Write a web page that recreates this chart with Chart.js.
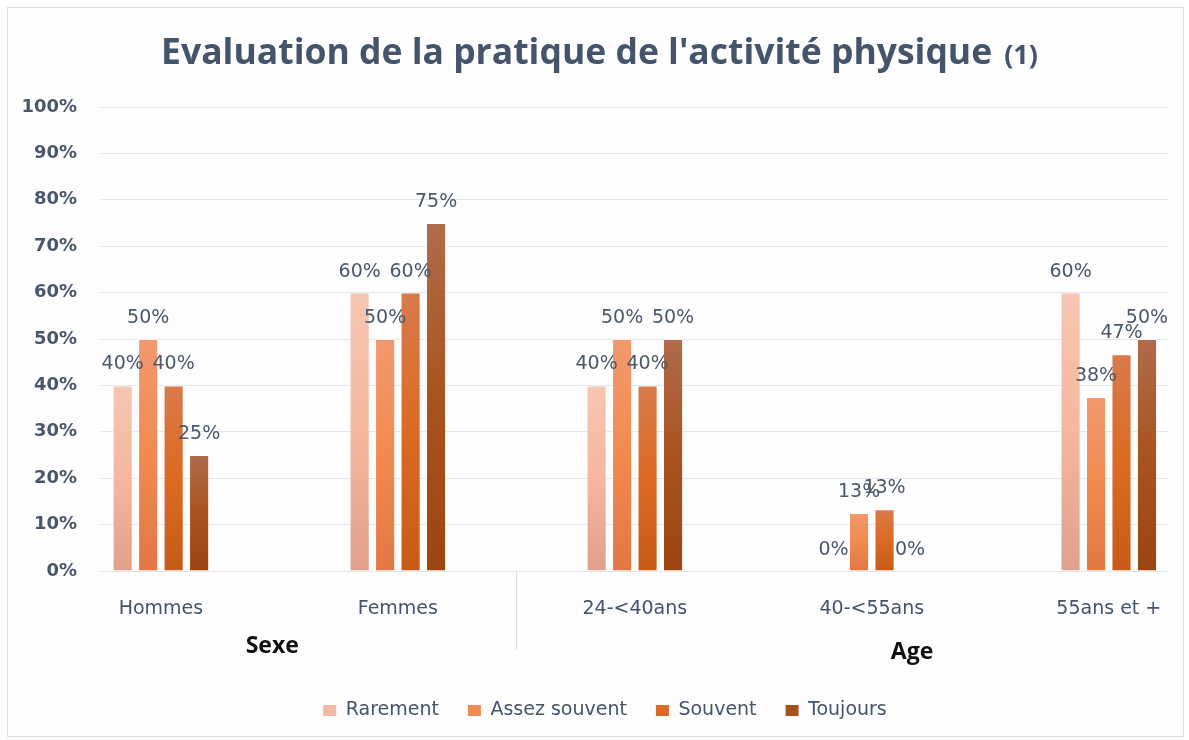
<!DOCTYPE html>
<html>
<head>
<meta charset="utf-8">
<script src="https://cdn.jsdelivr.net/npm/chart.js@4.4.1/dist/chart.umd.min.js"></script>
<style>
  html, body { margin: 0; padding: 0; background: #ffffff; }
  #wrap { width: 1189px; height: 740px; position: relative; }
</style>
</head>
<body>
<div id="wrap"><canvas id="c" width="1189" height="740"></canvas></div>
<script>
// ---- Data ----
const categories = ['Hommes', 'Femmes', '24-<40ans', '40-<55ans', '55ans et +'];
const seriesNames = ['Rarement', 'Assez souvent', 'Souvent', 'Toujours'];
const rarement     = [40, 60, 40, 0,    60];
const assezSouvent = [50, 50, 50, 12.5, 37.5];
const souvent      = [40, 60, 40, 13.3, 46.7];
const toujours     = [25, 75, 50, 0,    50];
const groupNames   = ['Sexe', 'Age'];
const chartTitle   = "Evaluation de la pratique de l'activité physique";
const titleNote    = '(1)';

// ---- Styles ----
const gradientStops = [
  ['#f6c6b2', '#f5b79d', '#e0a08b'],
  ['#f1996e', '#f28a4f', '#e27744'],
  ['#d87a4b', '#dd6a23', '#c65b17'],
  ['#b06b4b', '#a9541e', '#9b4510']
];
const legendColors = ['#f2b8a2', '#ef8a52', '#da6a27', '#a9521f'];
const textColor = '#44546A';
const seriesValues = [rarement, assezSouvent, souvent, toujours];

function barGradient(idx) {
  return function(context) {
    if (context.type !== 'data') return legendColors[idx];
    const chart = context.chart;
    const yScale = chart.scales.y;
    if (!yScale || !chart.chartArea) return legendColors[idx];
    const v = context.parsed ? context.parsed.y : 0;
    const top = yScale.getPixelForValue(v);
    const bottom = yScale.getPixelForValue(0);
    if (!isFinite(top) || !isFinite(bottom) || Math.abs(bottom - top) < 1) return legendColors[idx];
    const g = chart.ctx.createLinearGradient(0, top, 0, bottom);
    const s = gradientStops[idx];
    g.addColorStop(0, s[0]);
    g.addColorStop(0.5, s[1]);
    g.addColorStop(1, s[2]);
    return g;
  };
}

const datasets = seriesNames.map((name, i) => ({
  label: name,
  data: seriesValues[i].map((v, k) => ({ x: k, y: v })),
  backgroundColor: barGradient(i),
  borderColor: 'rgba(255,255,255,0.55)',
  borderWidth: 1,
  categoryPercentage: 0.43,
  barPercentage: 0.79
}));

const framePlugin = {
  id: 'frame',
  afterLayout(chart) {
    // legend block centred slightly right of the canvas centre, as in the reference
    if (chart.legend) { chart.legend.left += 10; chart.legend.right += 10; }
  },
  beforeDraw(chart) {
    const ctx = chart.ctx;
    ctx.save();
    ctx.fillStyle = '#ffffff';
    ctx.fillRect(0, 0, chart.width, chart.height);
    ctx.fillStyle = '#fdfdfd';
    ctx.fillRect(8, 8, chart.width - 14, chart.height - 12);
    ctx.strokeStyle = '#d8dee6';
    ctx.lineWidth = 1;
    ctx.strokeRect(7.5, 7.5, chart.width - 13, chart.height - 11);
    ctx.restore();
  }
};

const titlePlugin = {
  id: 'customTitle',
  afterDraw(chart) {
    const ctx = chart.ctx;
    ctx.save();
    ctx.fillStyle = textColor;
    ctx.textBaseline = 'alphabetic';
    ctx.textAlign = 'left';
    ctx.font = 'bold 35.5px "Open Sans"';
    const w1 = ctx.measureText(chartTitle).width;
    ctx.font = 'bold 27px "Open Sans"';
    const w2 = ctx.measureText(titleNote).width;
    const gap = 12;
    const total = w1 + gap + w2;
    const x0 = chart.width / 2 + 5 - total / 2;
    ctx.font = 'bold 35.5px "Open Sans"';
    ctx.fillText(chartTitle, x0, 64);
    ctx.font = 'bold 27px "Open Sans"';
    ctx.fillText(titleNote, x0 + w1 + gap, 64);
    ctx.restore();
  }
};

const labelsPlugin = {
  id: 'valueLabels',
  afterDatasetsDraw(chart) {
    const ctx = chart.ctx;
    ctx.save();
    ctx.font = '19px "DejaVu Sans"';
    ctx.fillStyle = '#4b586c';
    ctx.textAlign = 'center';
    ctx.textBaseline = 'alphabetic';
    chart.data.datasets.forEach((ds, di) => {
      const meta = chart.getDatasetMeta(di);
      meta.data.forEach((el, i) => {
        const v = ds.data[i].y;
        ctx.fillText(Math.round(v) + '%', el.x, el.y - 16);
      });
    });
    ctx.restore();
  }
};

const groupPlugin = {
  id: 'groups',
  afterDraw(chart) {
    const ctx = chart.ctx;
    const xs = chart.scales.x;
    const bottom = chart.chartArea.bottom;
    ctx.save();
    const sx = Math.round(xs.getPixelForValue(1.5)) + 0.5;
    ctx.strokeStyle = '#d5dbe3';
    ctx.lineWidth = 1;
    ctx.beginPath();
    ctx.moveTo(sx, bottom);
    ctx.lineTo(sx, bottom + 79);
    ctx.stroke();
    ctx.fillStyle = '#111111';
    ctx.font = 'bold 23px "Open Sans"';
    ctx.textAlign = 'center';
    ctx.textBaseline = 'alphabetic';
    ctx.fillText(groupNames[0], xs.getPixelForValue(0.47), bottom + 82);
    ctx.fillText(groupNames[1], xs.getPixelForValue(3.17), bottom + 88);
    ctx.restore();
  }
};

new Chart(document.getElementById('c'), {
  type: 'bar',
  data: { datasets },
  plugins: [framePlugin, labelsPlugin, groupPlugin, titlePlugin],
  options: {
    responsive: false,
    animation: false,
    layout: { padding: { left: 15, right: 14, top: 107, bottom: 10 } },
    scales: {
      x: {
        type: 'linear',
        min: -0.257,
        max: 4.2485,
        offset: false,
        bounds: 'data',
        afterBuildTicks(axis) {
          axis.ticks = categories.map((c, i) => ({ value: i }));
        },
        afterFit(axis) { axis.height = 101; },
        grid: { display: false, drawTicks: false },
        border: { display: false },
        ticks: {
          autoSkip: false,
          maxRotation: 0,
          padding: 27,
          color: textColor,
          font: { family: 'DejaVu Sans', size: 19 },
          callback: (v) => categories[v]
        }
      },
      y: {
        min: 0,
        max: 100,
        afterFit(axis) { axis.width = 85; },
        grid: { color: '#e3e7ed', lineWidth: 1, drawTicks: false },
        border: { display: false },
        ticks: {
          stepSize: 10,
          padding: 23,
          color: '#4a5669',
          font: { family: 'DejaVu Sans', size: 18, weight: 'bold' },
          callback: (v) => v + '%'
        }
      }
    },
    plugins: {
      title: { display: false },
      tooltip: { enabled: false },
      legend: {
        position: 'bottom',
        labels: {
          boxWidth: 13,
          boxHeight: 11,
          padding: 29,
          color: textColor,
          font: { family: 'DejaVu Sans', size: 19 },
          generateLabels(chart) {
            return chart.data.datasets.map((ds, i) => ({
              text: ds.label,
              fillStyle: legendColors[i],
              strokeStyle: legendColors[i],
              lineWidth: 0,
              hidden: false,
              datasetIndex: i,
              fontColor: textColor
            }));
          }
        }
      }
    }
  }
});
</script>
</body>
</html>
